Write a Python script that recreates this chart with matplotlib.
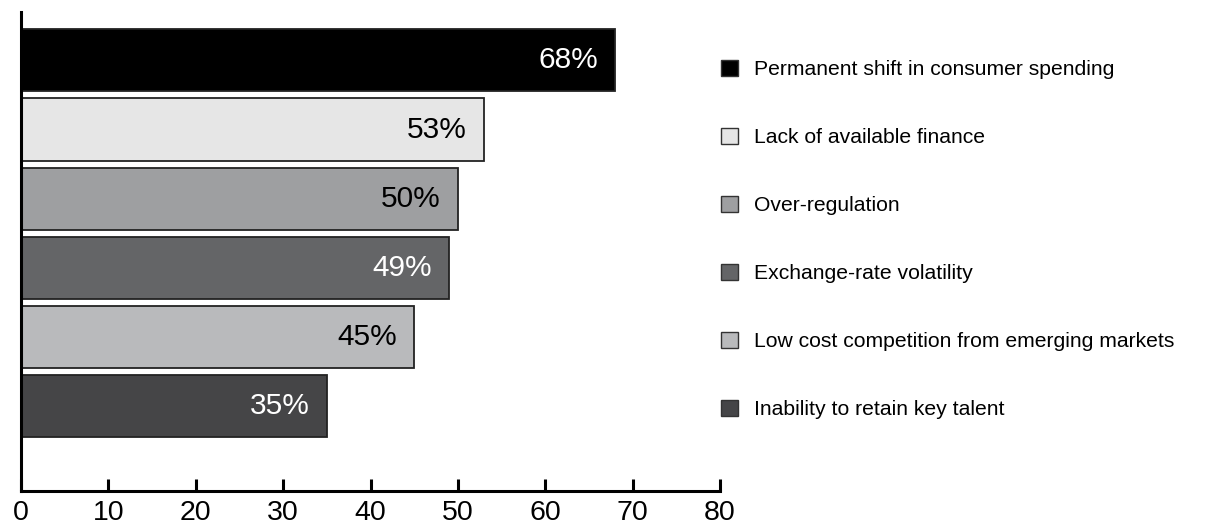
import matplotlib
matplotlib.use('Agg')
import matplotlib.pyplot as plt
from matplotlib.patches import Patch

plt.rcParams['font.family'] = ['Liberation Sans', 'DejaVu Sans']

# data, top to bottom
categories = ['Permanent shift in consumer spending',
              'Lack of available finance',
              'Over-regulation',
              'Exchange-rate volatility',
              'Low cost competition from emerging markets',
              'Inability to retain key talent']
values = [68, 53, 50, 49, 45, 35]
colors = ['#000000', '#e6e6e6', '#9e9fa1', '#646567', '#b9babc', '#454547']
text_colors = ['white', 'black', 'black', 'white', 'black', 'white']
xticks = [0, 10, 20, 30, 40, 50, 60, 70, 80]

fig = plt.figure(figsize=(12.13, 5.27), dpi=100)
ax = fig.add_axes([21 / 1213, 36 / 527, 699 / 1213, 479 / 527])

pos = list(range(len(values)))
bars = ax.barh(pos, values, height=0.9, color=colors, edgecolor='#222222', linewidth=1.3)

for b, v, tc in zip(bars, values, text_colors):
    ax.annotate(f'{v}%', (b.get_width(), b.get_y() + b.get_height() / 2),
                xytext=(-12.5, 0), textcoords='offset points',
                ha='right', va='center', fontsize=21.5, color=tc)

ax.set_xlim(0, 80)
ax.set_ylim(6.23, -0.70)
ax.set_xticks(xticks)
ax.set_yticks([])
ax.tick_params(axis='x', direction='in', length=9, width=2.2, labelsize=20.5, pad=6.5)
for s in ['top', 'right']:
    ax.spines[s].set_visible(False)
for s in ['left', 'bottom']:
    ax.spines[s].set_linewidth(2.2)

handles = [Patch(facecolor=c, edgecolor='#333333', linewidth=1.0) for c in colors]
fig.legend(handles, categories, loc='upper left', bbox_to_anchor=(721 / 1213, 1 - 60 / 527),
           frameon=False, fontsize=15.2, borderpad=0, borderaxespad=0,
           handlelength=0.8, handleheight=0.8, handletextpad=0.75, labelspacing=2.3)

fig.savefig('out.png', dpi=100)
